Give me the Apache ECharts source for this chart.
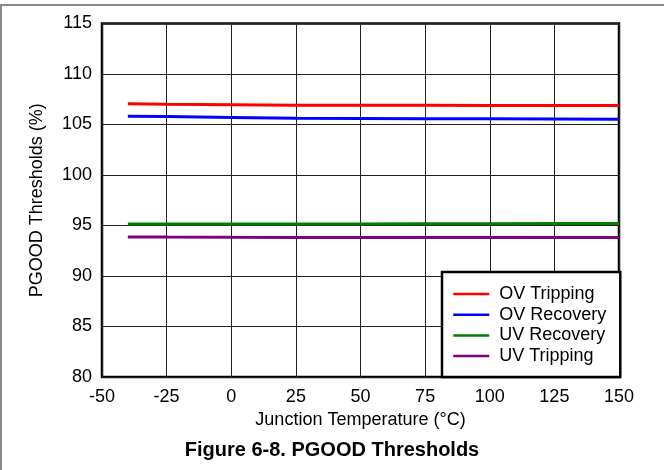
<!DOCTYPE html>
<html>
<head>
<meta charset="utf-8">
<script src="https://cdn.jsdelivr.net/npm/echarts@6/dist/echarts.min.js"></script>
<style>
html,body{margin:0;padding:0;background:#fff;}
#c{width:664px;height:470px;}
</style>
</head>
<body>
<div id="c"></div>
<script>
const temps = [-40, -25, 0, 25, 50, 75, 100, 125, 150];
const ovTripping = [107.05, 107.0, 106.95, 106.9, 106.9, 106.9, 106.88, 106.88, 106.88];
const ovRecovery = [105.82, 105.78, 105.7, 105.62, 105.6, 105.58, 105.56, 105.54, 105.52];
const uvRecovery = [95.14, 95.14, 95.15, 95.15, 95.16, 95.17, 95.18, 95.19, 95.2];
const uvTripping = [93.87, 93.85, 93.83, 93.82, 93.82, 93.82, 93.82, 93.82, 93.82];
const seriesNames = ['OV Tripping', 'OV Recovery', 'UV Recovery', 'UV Tripping'];
const seriesColors = ['#ff0000', '#0000ff', '#008000', '#800080'];
const xTitle = 'Junction Temperature (°C)';
const yTitle = 'PGOOD Thresholds (%)';
const figTitle = 'Figure 6-8. PGOOD Thresholds';

const FONT = '"Liberation Sans", Arial, sans-serif';
const allValues = [ovTripping, ovRecovery, uvRecovery, uvTripping];

const chart = echarts.init(document.getElementById('c'), null, {renderer: 'canvas'});
chart.setOption({
  animation: false,
  backgroundColor: '#fff',
  title: {
    text: figTitle,
    left: 'center',
    top: 435,
    textStyle: {fontFamily: FONT, fontSize: 20, fontWeight: 'bold', color: '#000'}
  },
  grid: {
    left: 102, right: 45, top: 23.5, bottom: 93,
    show: true, borderColor: '#000', borderWidth: 2.5, backgroundColor: 'transparent'
  },
  xAxis: {
    type: 'value', min: -50, max: 150, interval: 25,
    name: xTitle, nameLocation: 'middle', nameGap: 34,
    nameTextStyle: {fontFamily: FONT, fontSize: 18, color: '#000'},
    axisLine: {show: false}, axisTick: {show: false},
    axisLabel: {fontFamily: FONT, fontSize: 18, color: '#000', margin: 11},
    splitLine: {show: true, lineStyle: {color: '#222', width: 1}}
  },
  yAxis: {
    type: 'value', min: 80, max: 115, interval: 5,
    name: yTitle, nameLocation: 'middle', nameGap: 56,
    nameTextStyle: {fontFamily: FONT, fontSize: 18, color: '#000'},
    axisLine: {show: false}, axisTick: {show: false},
    axisLabel: {fontFamily: FONT, fontSize: 18, color: '#000', margin: 10},
    splitLine: {show: true, lineStyle: {color: '#222', width: 1}}
  },
  legend: {
    orient: 'vertical',
    left: 442, top: 272,
    data: seriesNames,
    itemWidth: 36, itemHeight: 14, itemGap: 0.7,
    padding: [12, 14, 11, 10],
    backgroundColor: '#fff',
    borderColor: '#000', borderWidth: 2.5,
    textStyle: {fontFamily: FONT, fontSize: 18, color: '#000', lineHeight: 20, padding: [0, 0, 0, 5]},
    lineStyle: {width: 2.5},
    itemStyle: {opacity: 0}
  },
  graphic: [
    {type: 'line', shape: {x1: 0, y1: 5, x2: 664, y2: 5}, style: {stroke: '#888', lineWidth: 2}, silent: true},
    {type: 'line', shape: {x1: 1, y1: 5, x2: 1, y2: 470}, style: {stroke: '#888', lineWidth: 2}, silent: true}
  ],
  series: seriesNames.map((name, i) => ({
    name: name,
    type: 'line',
    symbol: 'none',
    smooth: false,
    color: seriesColors[i],
    lineStyle: {color: seriesColors[i], width: 3},
    data: temps.map((t, j) => [t, allValues[i][j]]),
    z: 3
  }))
});
</script>
</body>
</html>
